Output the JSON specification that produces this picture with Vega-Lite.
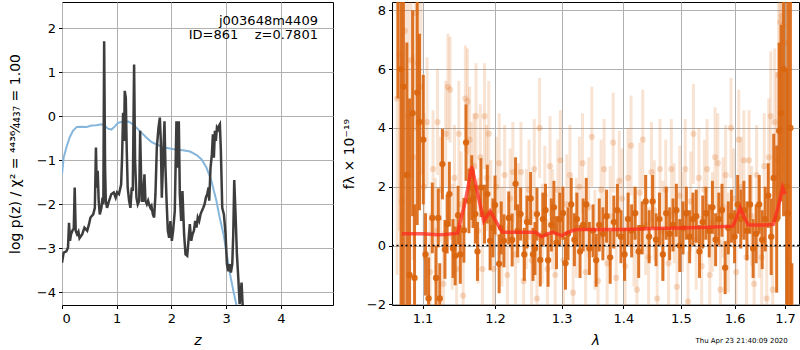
{
  "$schema": "https://vega.github.io/schema/vega-lite/v6.json",
  "padding": {"left": 7, "top": 1, "right": 0, "bottom": 0},
  "background": "white",
  "config": {
    "view": {"stroke": "black", "strokeWidth": 1},
    "axis": {"grid": true, "gridColor": "#b0b0b0", "gridWidth": 1, "domain": false, "tickColor": "black", "tickSize": 3.5, "labelFontSize": 13, "labelColor": "black", "labelFont": "DejaVu Sans", "titleFont": "DejaVu Sans", "titleFontSize": 14, "titleFontWeight": "normal", "titleColor": "black", "labelPadding": 3}
  },
  "datasets": {
    "blue": [
      {"z":0,"p":-1.32},{"z":0.03,"p":-0.94},{"z":0.08,"p":-0.71},{"z":0.14,"p":-0.48},{"z":0.2,"p":-0.33},{"z":0.27,"p":-0.24},{"z":0.35,"p":-0.235},{"z":0.45,"p":-0.24},{"z":0.54,"p":-0.21},{"z":0.63,"p":-0.2},{"z":0.72,"p":-0.18},{"z":0.78,"p":-0.21},{"z":0.84,"p":-0.28},{"z":0.9,"p":-0.3},{"z":0.96,"p":-0.24},{"z":1.02,"p":-0.15},{"z":1.12,"p":-0.12},{"z":1.21,"p":-0.12},{"z":1.27,"p":-0.16},{"z":1.36,"p":-0.26},{"z":1.45,"p":-0.37},{"z":1.54,"p":-0.48},{"z":1.63,"p":-0.58},{"z":1.73,"p":-0.64},{"z":1.85,"p":-0.7},{"z":1.97,"p":-0.73},{"z":2.09,"p":-0.76},{"z":2.21,"p":-0.77},{"z":2.34,"p":-0.8},{"z":2.46,"p":-0.88},{"z":2.55,"p":-0.98},{"z":2.64,"p":-1.17},{"z":2.73,"p":-1.47},{"z":2.82,"p":-1.92},{"z":2.88,"p":-2.3},{"z":2.95,"p":-2.68},{"z":3.01,"p":-3.14},{"z":3.07,"p":-3.59},{"z":3.13,"p":-3.97},{"z":3.19,"p":-4.31},{"z":3.25,"p":-4.65}
    ],
    "pz": [
      {"z":0,"p":-3.33},{"z":0.03,"p":-3.1},{"z":0.08,"p":-3.07},{"z":0.11,"p":-2.98},{"z":0.128,"p":-2.42},{"z":0.146,"p":-2.83},{"z":0.165,"p":-2.68},{"z":0.19,"p":-2.6},{"z":0.215,"p":-2.55},{"z":0.232,"p":-1.62},{"z":0.25,"p":-2.6},{"z":0.275,"p":-2.68},{"z":0.3,"p":-2.62},{"z":0.32,"p":-2.77},{"z":0.37,"p":-2.68},{"z":0.41,"p":-2.53},{"z":0.46,"p":-2.6},{"z":0.49,"p":-2.47},{"z":0.52,"p":-2.3},{"z":0.57,"p":-2.23},{"z":0.6,"p":-2.08},{"z":0.62,"p":-0.71},{"z":0.635,"p":-1.62},{"z":0.652,"p":-1.24},{"z":0.67,"p":-1.92},{"z":0.69,"p":-2.23},{"z":0.72,"p":-2.08},{"z":0.74,"p":-1.85},{"z":0.755,"p":-2.0},{"z":0.77,"p":1.71},{"z":0.787,"p":-1.17},{"z":0.8,"p":-1.92},{"z":0.823,"p":-2.08},{"z":0.86,"p":-1.92},{"z":0.9,"p":-1.77},{"z":0.945,"p":-1.73},{"z":0.98,"p":-1.85},{"z":1.006,"p":-1.73},{"z":1.04,"p":-1.77},{"z":1.08,"p":-1.55},{"z":1.097,"p":-0.94},{"z":1.116,"p":0.08},{"z":1.134,"p":-0.56},{"z":1.146,"p":0.58},{"z":1.165,"p":0.42},{"z":1.183,"p":-0.79},{"z":1.2,"p":-1.62},{"z":1.226,"p":-1.92},{"z":1.25,"p":-2.08},{"z":1.274,"p":-1.62},{"z":1.293,"p":-1.7},{"z":1.317,"p":1.18},{"z":1.335,"p":-1.02},{"z":1.36,"p":-1.85},{"z":1.384,"p":-2.0},{"z":1.41,"p":-1.92},{"z":1.427,"p":-0.33},{"z":1.445,"p":-1.39},{"z":1.463,"p":-1.92},{"z":1.48,"p":-1.92},{"z":1.506,"p":-1.32},{"z":1.524,"p":-1.92},{"z":1.55,"p":-2.0},{"z":1.573,"p":-1.92},{"z":1.59,"p":-2.0},{"z":1.616,"p":-2.08},{"z":1.634,"p":-2.04},{"z":1.66,"p":-2.23},{"z":1.683,"p":-2.3},{"z":1.707,"p":-1.77},{"z":1.732,"p":-0.71},{"z":1.762,"p":-0.26},{"z":1.787,"p":-0.03},{"z":1.805,"p":-0.56},{"z":1.823,"p":-1.85},{"z":1.848,"p":-0.94},{"z":1.872,"p":-0.11},{"z":1.89,"p":-1.17},{"z":1.91,"p":-1.92},{"z":1.933,"p":-2.6},{"z":1.957,"p":-2.76},{"z":1.98,"p":-2.38},{"z":2.006,"p":-2.83},{"z":2.03,"p":-2.6},{"z":2.06,"p":-2.15},{"z":2.09,"p":-0.11},{"z":2.11,"p":-1.17},{"z":2.134,"p":-0.11},{"z":2.152,"p":-1.77},{"z":2.177,"p":-2.38},{"z":2.2,"p":-1.7},{"z":2.23,"p":-2.68},{"z":2.256,"p":-3.14},{"z":2.287,"p":-3.17},{"z":2.31,"p":-2.83},{"z":2.335,"p":-2.45},{"z":2.36,"p":-2.83},{"z":2.384,"p":-2.68},{"z":2.41,"p":-2.6},{"z":2.433,"p":-2.38},{"z":2.457,"p":-2.53},{"z":2.48,"p":-2.3},{"z":2.506,"p":-2.38},{"z":2.53,"p":-2.23},{"z":2.555,"p":-2.15},{"z":2.58,"p":-2.08},{"z":2.604,"p":-2.0},{"z":2.628,"p":-1.85},{"z":2.652,"p":-1.77},{"z":2.677,"p":-1.62},{"z":2.689,"p":-1.92},{"z":2.713,"p":-1.17},{"z":2.738,"p":-0.86},{"z":2.756,"p":-0.41},{"z":2.774,"p":-0.94},{"z":2.793,"p":-0.33},{"z":2.81,"p":-0.56},{"z":2.83,"p":-0.26},{"z":2.848,"p":-0.3},{"z":2.866,"p":-0.22},{"z":2.884,"p":-0.18},{"z":2.902,"p":-0.79},{"z":2.927,"p":-2.08},{"z":2.957,"p":-2.23},{"z":2.988,"p":-2.68},{"z":3.012,"p":-3.36},{"z":3.037,"p":-3.52},{"z":3.061,"p":-3.36},{"z":3.085,"p":-3.55},{"z":3.11,"p":-3.36},{"z":3.128,"p":-2.68},{"z":3.146,"p":-1.45},{"z":3.17,"p":-2.23},{"z":3.195,"p":-3.14},{"z":3.22,"p":-3.67},{"z":3.244,"p":-4.27},{"z":3.262,"p":-4.05},{"z":3.28,"p":-3.78},{"z":3.3,"p":-4.3},{"z":3.32,"p":-4.8}
    ],
    "dark": [
      {"l":1.068,"f":9.0,"lo":5.0,"hi":13.0},{"l":1.072,"f":6.0,"lo":-3.0,"hi":15.0},{"l":1.075,"f":5.4,"lo":-2.6,"hi":13.4},{"l":1.0795,"f":2.4,"lo":-2.1,"hi":6.9},{"l":1.083,"f":-1.0,"lo":-7.0,"hi":5.0},{"l":1.087,"f":4.5,"lo":1.0,"hi":8.0},{"l":1.0895,"f":-1.1,"lo":-3.6,"hi":1.4},{"l":1.093,"f":5.2,"lo":0.7,"hi":9.7},{"l":1.096,"f":4.2,"lo":1.2,"hi":7.2},{"l":1.101,"f":3.6,"lo":1.4,"hi":5.8},{"l":1.104,"f":-0.3,"lo":-1.7,"hi":1.1},{"l":1.108,"f":-1.8,"lo":-3.2,"hi":-0.4},{"l":1.113,"f":0.94,"lo":-0.26,"hi":2.14},{"l":1.118,"f":-1.1,"lo":-2.2,"hi":0.0},{"l":1.121,"f":0.94,"lo":-0.06,"hi":1.94},{"l":1.123,"f":-1.8,"lo":-3.0,"hi":-0.6},{"l":1.1266,"f":2.77,"lo":1.57,"hi":3.97},{"l":1.13,"f":-0.13,"lo":-1.13,"hi":0.87},{"l":1.133,"f":0.73,"lo":-0.27,"hi":1.73},{"l":1.136,"f":1.75,"lo":0.65,"hi":2.85},{"l":1.141,"f":-0.1,"lo":-1.1,"hi":0.9},{"l":1.144,"f":-0.35,"lo":-1.35,"hi":0.65},{"l":1.148,"f":1.03,"lo":0.03,"hi":2.03},{"l":1.151,"f":-0.3,"lo":-1.3,"hi":0.7},{"l":1.156,"f":0.52,"lo":-0.58,"hi":1.62},{"l":1.159,"f":3.5,"lo":2.2,"hi":4.8},{"l":1.163,"f":1.52,"lo":0.42,"hi":2.62},{"l":1.167,"f":1.97,"lo":0.87,"hi":3.07},{"l":1.169,"f":1.6,"lo":0.6,"hi":2.6},{"l":1.172,"f":1.07,"lo":0.07,"hi":2.07},{"l":1.175,"f":-0.2,"lo":-1.2,"hi":0.8},{"l":1.18,"f":1.97,"lo":0.97,"hi":2.97},{"l":1.185,"f":1.07,"lo":0.07,"hi":2.07},{"l":1.189,"f":1.75,"lo":0.75,"hi":2.75},{"l":1.193,"f":0.16,"lo":-0.84,"hi":1.16},{"l":1.197,"f":0.6,"lo":-0.4,"hi":1.6},{"l":1.2,"f":1.38,"lo":0.38,"hi":2.38},{"l":1.206,"f":-0.62,"lo":-1.62,"hi":0.38},{"l":1.209,"f":0.6,"lo":-0.3,"hi":1.5},{"l":1.213,"f":0.16,"lo":-0.74,"hi":1.06},{"l":1.22,"f":0.94,"lo":0.04,"hi":1.84},{"l":1.225,"f":0.19,"lo":-0.71,"hi":1.09},{"l":1.23,"f":2.1,"lo":1.2,"hi":3.0},{"l":1.233,"f":0.5,"lo":-0.4,"hi":1.4},{"l":1.2375,"f":1.07,"lo":0.17,"hi":1.97},{"l":1.243,"f":-0.3,"lo":-1.2,"hi":0.6},{"l":1.247,"f":0.8,"lo":-0.1,"hi":1.7},{"l":1.2525,"f":1.6,"lo":0.7,"hi":2.5},{"l":1.256,"f":-0.3,"lo":-1.2,"hi":0.6},{"l":1.259,"f":-0.1,"lo":-1.0,"hi":0.8},{"l":1.262,"f":1.07,"lo":0.17,"hi":1.97},{"l":1.267,"f":-0.49,"lo":-1.39,"hi":0.41},{"l":1.271,"f":0.9,"lo":0.0,"hi":1.8},{"l":1.275,"f":1.2,"lo":0.3,"hi":2.1},{"l":1.279,"f":-0.5,"lo":-1.4,"hi":0.4},{"l":1.284,"f":0.7,"lo":-0.2,"hi":1.6},{"l":1.288,"f":1.3,"lo":0.4,"hi":2.2},{"l":1.292,"f":0.1,"lo":-0.8,"hi":1.0},{"l":1.297,"f":0.9,"lo":0.0,"hi":1.8},{"l":1.302,"f":1.1,"lo":0.2,"hi":2.0},{"l":1.306,"f":-0.6,"lo":-1.5,"hi":0.3},{"l":1.31,"f":0.4,"lo":-0.5,"hi":1.3},{"l":1.315,"f":1.4,"lo":0.5,"hi":2.3},{"l":1.32,"f":0.2,"lo":-0.7,"hi":1.1},{"l":1.324,"f":0.9,"lo":0.0,"hi":1.8},{"l":1.329,"f":-0.2,"lo":-1.1,"hi":0.7},{"l":1.334,"f":0.7,"lo":-0.2,"hi":1.6},{"l":1.339,"f":1.4,"lo":0.5,"hi":2.3},{"l":1.344,"f":-0.1,"lo":-1.0,"hi":0.8},{"l":1.35,"f":0.5,"lo":-0.4,"hi":1.4},{"l":1.355,"f":-0.5,"lo":-1.4,"hi":0.4},{"l":1.36,"f":0.7,"lo":-0.2,"hi":1.6},{"l":1.366,"f":0.4,"lo":-0.5,"hi":1.3},{"l":1.372,"f":1.0,"lo":0.1,"hi":1.9},{"l":1.378,"f":-0.4,"lo":-1.3,"hi":0.5},{"l":1.384,"f":0.8,"lo":-0.1,"hi":1.7},{"l":1.39,"f":1.2,"lo":0.3,"hi":2.1},{"l":1.396,"f":0.3,"lo":-0.6,"hi":1.2},{"l":1.402,"f":-0.3,"lo":-1.2,"hi":0.6},{"l":1.408,"f":0.9,"lo":0.0,"hi":1.8},{"l":1.414,"f":0.5,"lo":-0.4,"hi":1.4},{"l":1.42,"f":1.1,"lo":0.2,"hi":2.0},{"l":1.426,"f":-0.2,"lo":-1.1,"hi":0.7},{"l":1.432,"f":0.6,"lo":-0.3,"hi":1.5},{"l":1.438,"f":1.5,"lo":0.6,"hi":2.4},{"l":1.444,"f":0.3,"lo":-0.6,"hi":1.2},{"l":1.45,"f":1.5,"lo":0.6,"hi":2.4},{"l":1.456,"f":0.2,"lo":-0.7,"hi":1.1},{"l":1.462,"f":0.9,"lo":0.0,"hi":1.8},{"l":1.468,"f":-0.3,"lo":-1.2,"hi":0.6},{"l":1.474,"f":1.1,"lo":0.2,"hi":2.0},{"l":1.48,"f":0.4,"lo":-0.5,"hi":1.3},{"l":1.486,"f":0.7,"lo":-0.2,"hi":1.6},{"l":1.492,"f":1.2,"lo":0.3,"hi":2.1},{"l":1.498,"f":0.0,"lo":-0.9,"hi":0.9},{"l":1.504,"f":0.6,"lo":-0.3,"hi":1.5},{"l":1.51,"f":1.1,"lo":0.2,"hi":2.0},{"l":1.516,"f":0.3,"lo":-0.6,"hi":1.2},{"l":1.522,"f":0.9,"lo":0.0,"hi":1.8},{"l":1.528,"f":1.0,"lo":0.1,"hi":1.9},{"l":1.534,"f":-0.2,"lo":-1.1,"hi":0.7},{"l":1.54,"f":0.8,"lo":-0.1,"hi":1.7},{"l":1.546,"f":1.1,"lo":0.2,"hi":2.0},{"l":1.552,"f":0.5,"lo":-0.4,"hi":1.4},{"l":1.558,"f":1.3,"lo":0.4,"hi":2.2},{"l":1.564,"f":0.2,"lo":-0.7,"hi":1.1},{"l":1.57,"f":0.9,"lo":0.0,"hi":1.8},{"l":1.576,"f":1.2,"lo":0.3,"hi":2.1},{"l":1.582,"f":-0.75,"lo":-1.65,"hi":0.15},{"l":1.588,"f":0.6,"lo":-0.3,"hi":1.5},{"l":1.594,"f":1.0,"lo":0.1,"hi":1.9},{"l":1.6,"f":0.3,"lo":-0.6,"hi":1.2},{"l":1.606,"f":1.4,"lo":0.4,"hi":2.4},{"l":1.612,"f":0.9,"lo":-0.1,"hi":1.9},{"l":1.618,"f":1.2,"lo":0.2,"hi":2.2},{"l":1.624,"f":0.5,"lo":-0.5,"hi":1.5},{"l":1.63,"f":1.4,"lo":0.4,"hi":2.4},{"l":1.636,"f":-0.1,"lo":-1.1,"hi":0.9},{"l":1.642,"f":0.4,"lo":-0.6,"hi":1.4},{"l":1.648,"f":1.4,"lo":0.4,"hi":2.4},{"l":1.654,"f":0.2,"lo":-0.8,"hi":1.2},{"l":1.66,"f":0.9,"lo":-0.2,"hi":2.0},{"l":1.666,"f":1.7,"lo":0.6,"hi":2.8},{"l":1.672,"f":0.3,"lo":-1.0,"hi":1.6},{"l":1.677,"f":2.3,"lo":0.8,"hi":3.8},{"l":1.683,"f":0.9,"lo":-1.6,"hi":3.4},{"l":1.688,"f":3.9,"lo":0.9,"hi":6.9},{"l":1.692,"f":4.5,"lo":1.5,"hi":7.5},{"l":1.697,"f":6.0,"lo":1.0,"hi":11.0},{"l":1.7035,"f":2.0,"lo":-3.0,"hi":6.0},{"l":1.7055,"f":1.1,"lo":-8.0,"hi":10.0},{"l":1.711,"f":4.0,"lo":-10.0,"hi":18.0},{"l":1.714,"f":-5.0,"lo":-9.0,"hi":-0.6}
    ],
    "light": [
      {"l":1.067,"f":5.0,"lo":-1.0,"hi":11.0},{"l":1.07,"f":6.5,"lo":0.5,"hi":12.5},{"l":1.073,"f":1.5,"lo":-3.5,"hi":6.5},{"l":1.077,"f":7.3,"lo":2.3,"hi":12.3},{"l":1.081,"f":4.4,"lo":0.4,"hi":8.4},{"l":1.085,"f":6.3,"lo":2.3,"hi":10.3},{"l":1.088,"f":3.0,"lo":-0.5,"hi":6.5},{"l":1.091,"f":7.9,"lo":3.9,"hi":11.9},{"l":1.094,"f":6.2,"lo":3.2,"hi":9.2},{"l":1.098,"f":5.4,"lo":2.4,"hi":8.4},{"l":1.102,"f":2.0,"lo":-0.5,"hi":4.5},{"l":1.106,"f":4.2,"lo":2.0,"hi":6.4},{"l":1.11,"f":-0.9,"lo":-2.9,"hi":1.1},{"l":1.114,"f":2.6,"lo":0.6,"hi":4.6},{"l":1.117,"f":0.5,"lo":-1.3,"hi":2.3},{"l":1.12,"f":4.2,"lo":2.4,"hi":6.0},{"l":1.124,"f":1.9,"lo":0.1,"hi":3.7},{"l":1.128,"f":-1.3,"lo":-3.1,"hi":0.5},{"l":1.131,"f":3.8,"lo":2.0,"hi":5.6},{"l":1.134,"f":5.4,"lo":3.6,"hi":7.2},{"l":1.137,"f":5.3,"lo":3.5,"hi":7.1},{"l":1.14,"f":0.3,"lo":-1.5,"hi":2.1},{"l":1.143,"f":2.3,"lo":0.5,"hi":4.1},{"l":1.146,"f":-0.8,"lo":-2.6,"hi":1.0},{"l":1.149,"f":3.8,"lo":2.0,"hi":5.6},{"l":1.152,"f":1.4,"lo":-0.4,"hi":3.2},{"l":1.155,"f":-1.7,"lo":-3.5,"hi":0.1},{"l":1.158,"f":5.0,"lo":3.2,"hi":6.8},{"l":1.161,"f":4.9,"lo":3.1,"hi":6.7},{"l":1.164,"f":3.6,"lo":1.8,"hi":5.4},{"l":1.166,"f":2.4,"lo":0.6,"hi":4.2},{"l":1.17,"f":2.7,"lo":0.9,"hi":4.5},{"l":1.173,"f":4.4,"lo":2.6,"hi":6.2},{"l":1.176,"f":0.5,"lo":-1.3,"hi":2.3},{"l":1.179,"f":3.0,"lo":1.2,"hi":4.8},{"l":1.182,"f":-0.8,"lo":-2.6,"hi":1.0},{"l":1.185,"f":4.4,"lo":2.6,"hi":6.2},{"l":1.188,"f":2.3,"lo":0.5,"hi":4.1},{"l":1.191,"f":3.8,"lo":2.0,"hi":5.6},{"l":1.194,"f":1.1,"lo":-0.7,"hi":2.9},{"l":1.198,"f":-0.8,"lo":-2.6,"hi":1.0},{"l":1.202,"f":2.0,"lo":0.3,"hi":3.7},{"l":1.206,"f":2.8,"lo":1.1,"hi":4.5},{"l":1.21,"f":0.3,"lo":-1.4,"hi":2.0},{"l":1.214,"f":2.4,"lo":0.7,"hi":4.1},{"l":1.218,"f":-1.0,"lo":-2.7,"hi":0.7},{"l":1.222,"f":1.6,"lo":-0.1,"hi":3.3},{"l":1.226,"f":2.5,"lo":0.8,"hi":4.2},{"l":1.23,"f":-0.3,"lo":-2.0,"hi":1.4},{"l":1.234,"f":1.1,"lo":-0.6,"hi":2.8},{"l":1.238,"f":2.5,"lo":0.8,"hi":4.2},{"l":1.242,"f":-1.2,"lo":-2.9,"hi":0.5},{"l":1.246,"f":0.9,"lo":-0.8,"hi":2.6},{"l":1.25,"f":1.9,"lo":0.2,"hi":3.6},{"l":1.254,"f":-0.5,"lo":-2.2,"hi":1.2},{"l":1.258,"f":2.6,"lo":0.9,"hi":4.3},{"l":1.262,"f":-1.8,"lo":-3.5,"hi":-0.1},{"l":1.266,"f":4.0,"lo":2.3,"hi":5.7},{"l":1.27,"f":0.4,"lo":-1.3,"hi":2.1},{"l":1.274,"f":1.7,"lo":0.0,"hi":3.4},{"l":1.278,"f":-0.8,"lo":-2.5,"hi":0.9},{"l":1.282,"f":2.7,"lo":1.0,"hi":4.4},{"l":1.286,"f":0.9,"lo":-0.8,"hi":2.6},{"l":1.29,"f":-1.0,"lo":-2.7,"hi":0.7},{"l":1.294,"f":1.9,"lo":0.2,"hi":3.6},{"l":1.298,"f":2.9,"lo":1.2,"hi":4.6},{"l":1.303,"f":-0.5,"lo":-2.2,"hi":1.2},{"l":1.308,"f":1.4,"lo":-0.3,"hi":3.1},{"l":1.313,"f":2.4,"lo":0.7,"hi":4.1},{"l":1.318,"f":-1.6,"lo":-3.3,"hi":0.1},{"l":1.323,"f":0.6,"lo":-1.1,"hi":2.3},{"l":1.328,"f":2.0,"lo":0.3,"hi":3.7},{"l":1.333,"f":2.8,"lo":1.1,"hi":4.5},{"l":1.338,"f":-0.9,"lo":-2.6,"hi":0.8},{"l":1.343,"f":1.3,"lo":-0.4,"hi":3.0},{"l":1.348,"f":3.7,"lo":2.0,"hi":5.4},{"l":1.353,"f":0.2,"lo":-1.5,"hi":1.9},{"l":1.358,"f":-1.2,"lo":-2.9,"hi":0.5},{"l":1.363,"f":1.9,"lo":0.2,"hi":3.6},{"l":1.368,"f":2.6,"lo":0.9,"hi":4.3},{"l":1.373,"f":-0.6,"lo":-2.3,"hi":1.1},{"l":1.378,"f":1.0,"lo":-0.7,"hi":2.7},{"l":1.383,"f":3.5,"lo":1.8,"hi":5.2},{"l":1.388,"f":-1.1,"lo":-2.8,"hi":0.6},{"l":1.393,"f":2.2,"lo":0.5,"hi":3.9},{"l":1.398,"f":1.6,"lo":-0.1,"hi":3.3},{"l":1.403,"f":-0.7,"lo":-2.4,"hi":1.0},{"l":1.408,"f":2.3,"lo":0.6,"hi":4.0},{"l":1.413,"f":3.4,"lo":1.7,"hi":5.1},{"l":1.418,"f":0.3,"lo":-1.4,"hi":2.0},{"l":1.423,"f":-1.5,"lo":-3.2,"hi":0.2},{"l":1.428,"f":1.8,"lo":0.1,"hi":3.5},{"l":1.433,"f":3.6,"lo":1.9,"hi":5.3},{"l":1.438,"f":0.7,"lo":-1.0,"hi":2.4},{"l":1.443,"f":-0.4,"lo":-2.1,"hi":1.3},{"l":1.448,"f":2.5,"lo":0.8,"hi":4.2},{"l":1.453,"f":1.2,"lo":-0.5,"hi":2.9},{"l":1.458,"f":-1.8,"lo":-3.5,"hi":-0.1},{"l":1.463,"f":2.6,"lo":0.9,"hi":4.3},{"l":1.468,"f":0.5,"lo":-1.2,"hi":2.2},{"l":1.473,"f":1.9,"lo":0.2,"hi":3.6},{"l":1.478,"f":-0.6,"lo":-2.3,"hi":1.1},{"l":1.483,"f":2.6,"lo":0.9,"hi":4.3},{"l":1.488,"f":1.1,"lo":-0.6,"hi":2.8},{"l":1.493,"f":-1.4,"lo":-3.1,"hi":0.3},{"l":1.498,"f":1.7,"lo":0.0,"hi":3.4},{"l":1.503,"f":0.8,"lo":-0.9,"hi":2.5},{"l":1.508,"f":2.6,"lo":0.9,"hi":4.3},{"l":1.513,"f":-1.9,"lo":-3.6,"hi":-0.2},{"l":1.518,"f":1.5,"lo":-0.2,"hi":3.2},{"l":1.523,"f":3.8,"lo":2.1,"hi":5.5},{"l":1.528,"f":0.2,"lo":-1.5,"hi":1.9},{"l":1.533,"f":2.3,"lo":0.6,"hi":4.0},{"l":1.538,"f":-0.7,"lo":-2.4,"hi":1.0},{"l":1.543,"f":1.9,"lo":0.2,"hi":3.6},{"l":1.548,"f":2.6,"lo":0.9,"hi":4.3},{"l":1.553,"f":-1.0,"lo":-2.7,"hi":0.7},{"l":1.558,"f":0.8,"lo":-0.9,"hi":2.5},{"l":1.563,"f":3.0,"lo":1.3,"hi":4.7},{"l":1.568,"f":2.8,"lo":1.1,"hi":4.5},{"l":1.573,"f":-1.5,"lo":-3.2,"hi":0.2},{"l":1.578,"f":1.3,"lo":-0.4,"hi":3.0},{"l":1.583,"f":2.4,"lo":0.7,"hi":4.1},{"l":1.588,"f":0.1,"lo":-1.6,"hi":1.8},{"l":1.593,"f":4.0,"lo":2.3,"hi":5.7},{"l":1.598,"f":1.6,"lo":-0.1,"hi":3.3},{"l":1.603,"f":-0.9,"lo":-2.6,"hi":0.8},{"l":1.608,"f":3.6,"lo":1.9,"hi":5.3},{"l":1.613,"f":2.0,"lo":0.3,"hi":3.7},{"l":1.618,"f":2.9,"lo":1.2,"hi":4.6},{"l":1.623,"f":-0.4,"lo":-2.1,"hi":1.3},{"l":1.628,"f":2.9,"lo":1.2,"hi":4.6},{"l":1.633,"f":1.0,"lo":-0.7,"hi":2.7},{"l":1.638,"f":-1.3,"lo":-3.0,"hi":0.4},{"l":1.643,"f":2.4,"lo":0.7,"hi":4.1},{"l":1.648,"f":0.6,"lo":-1.1,"hi":2.3},{"l":1.653,"f":-0.4,"lo":-2.1,"hi":1.3},{"l":1.658,"f":2.7,"lo":0.9,"hi":4.5},{"l":1.663,"f":-1.8,"lo":-3.6,"hi":0.0},{"l":1.667,"f":3.0,"lo":1.0,"hi":5.0},{"l":1.671,"f":4.4,"lo":2.2,"hi":6.6},{"l":1.675,"f":-1.5,"lo":-3.7,"hi":0.7},{"l":1.679,"f":4.2,"lo":1.7,"hi":6.7},{"l":1.683,"f":2.9,"lo":-0.1,"hi":5.9},{"l":1.687,"f":5.8,"lo":2.3,"hi":9.3},{"l":1.69,"f":7.6,"lo":3.6,"hi":11.6},{"l":1.693,"f":7.8,"lo":3.3,"hi":12.3},{"l":1.696,"f":7.5,"lo":2.5,"hi":12.5},{"l":1.7,"f":6.9,"lo":1.9,"hi":11.9}
    ],
    "model": [
      {"l":1.073,"f":0.4},{"l":1.1,"f":0.4},{"l":1.12,"f":0.37},{"l":1.13,"f":0.38},{"l":1.147,"f":0.42},{"l":1.158,"f":1.5},{"l":1.167,"f":2.69},{"l":1.176,"f":1.7},{"l":1.184,"f":0.83},{"l":1.193,"f":1.17},{"l":1.202,"f":0.8},{"l":1.211,"f":0.45},{"l":1.24,"f":0.45},{"l":1.26,"f":0.45},{"l":1.269,"f":0.3},{"l":1.278,"f":0.4},{"l":1.286,"f":0.45},{"l":1.3,"f":0.34},{"l":1.31,"f":0.45},{"l":1.323,"f":0.55},{"l":1.35,"f":0.55},{"l":1.4,"f":0.55},{"l":1.45,"f":0.58},{"l":1.5,"f":0.6},{"l":1.55,"f":0.62},{"l":1.597,"f":0.66},{"l":1.604,"f":0.95},{"l":1.611,"f":1.27},{"l":1.619,"f":0.95},{"l":1.627,"f":0.7},{"l":1.66,"f":0.7},{"l":1.676,"f":0.72},{"l":1.686,"f":1.3},{"l":1.695,"f":1.97},{"l":1.7,"f":1.75}
    ]
  },
  "hconcat": [
    {
      "width": 271,
      "height": 303,
      "layer": [
        {
          "data": {"name": "blue"},
          "mark": {"type": "line", "color": "#86b6db", "strokeWidth": 2, "clip": true},
          "encoding": {
            "x": {"field": "z", "type": "quantitative", "scale": {"domain": [0, 4.95], "nice": false, "zero": false}, "axis": {"values": [0, 1, 2, 3, 4], "title": "z", "titleFontStyle": "italic", "titlePadding": 8, "labelPadding": 4}},
            "y": {"field": "p", "type": "quantitative", "scale": {"domain": [-4.29, 2.6], "nice": false, "zero": false}, "axis": {"values": [-4, -3, -2, -1, 0, 1, 2], "title": "log p(z) / χ² = ⁴⁴³⁶⁄₄₄₃₇ = 1.00", "titlePadding": 14}}
          }
        },
        {
          "data": {"name": "pz"},
          "mark": {"type": "line", "color": "#3d3d3d", "strokeWidth": 2.5, "clip": true},
          "encoding": {
            "x": {"field": "z", "type": "quantitative"},
            "y": {"field": "p", "type": "quantitative"}
          }
        },
        {
          "data": {"values": [{}]},
          "mark": {"type": "text", "align": "right", "baseline": "middle", "fontSize": 13, "font": "DejaVu Sans", "color": "black"},
          "encoding": {
            "x": {"datum": 4.675, "type": "quantitative"},
            "y": {"datum": 2.175, "type": "quantitative"},
            "text": {"value": "j003648m4409"}
          }
        },
        {
          "data": {"values": [{}]},
          "mark": {"type": "text", "align": "right", "baseline": "middle", "fontSize": 13, "font": "DejaVu Sans", "color": "black"},
          "encoding": {
            "x": {"datum": 4.675, "type": "quantitative"},
            "y": {"datum": 1.85, "type": "quantitative"},
            "text": {"value": "ID=861\u00a0\u00a0\u00a0\u00a0z=0.7801"}
          }
        }
      ]
    },
    {
      "width": 407,
      "height": 303,
      "layer": [
        {
          "data": {"name": "light"},
          "mark": {"type": "rule", "color": "#e07424", "opacity": 0.2, "strokeWidth": 3, "clip": true},
          "encoding": {
            "x": {"field": "l", "type": "quantitative", "scale": {"type": "log", "domain": [1.0604, 1.7287], "nice": false, "zero": false}, "axis": {"values": [1.1, 1.2, 1.3, 1.4, 1.5, 1.6, 1.7], "format": ".1f", "title": "λ", "titleFontStyle": "italic", "titlePadding": 8, "labelPadding": 4}},
            "y": {"field": "lo", "type": "quantitative", "scale": {"domain": [-2.02, 8.28], "nice": false, "zero": false}, "axis": {"values": [-2, 0, 2, 4, 6, 8], "title": "fλ × 10⁻¹⁹", "titlePadding": 10}},
            "y2": {"field": "hi"}
          }
        },
        {
          "data": {"name": "light"},
          "mark": {"type": "circle", "color": "#e07424", "opacity": 0.25, "size": 38, "clip": true},
          "encoding": {
            "x": {"field": "l", "type": "quantitative"},
            "y": {"field": "f", "type": "quantitative"}
          }
        },
        {
          "data": {"name": "dark"},
          "mark": {"type": "rule", "color": "#d9650f", "opacity": 0.9, "strokeWidth": 3, "clip": true},
          "encoding": {
            "x": {"field": "l", "type": "quantitative"},
            "y": {"field": "lo", "type": "quantitative"},
            "y2": {"field": "hi"}
          }
        },
        {
          "data": {"name": "dark"},
          "mark": {"type": "circle", "color": "#d9650f", "opacity": 0.95, "size": 40, "clip": true},
          "encoding": {
            "x": {"field": "l", "type": "quantitative"},
            "y": {"field": "f", "type": "quantitative"}
          }
        },
        {
          "data": {"name": "model"},
          "mark": {"type": "line", "color": "#ff2a1f", "opacity": 0.75, "strokeWidth": 3.5, "clip": true},
          "encoding": {
            "x": {"field": "l", "type": "quantitative"},
            "y": {"field": "f", "type": "quantitative"}
          }
        },
        {
          "data": {"values": [{}]},
          "mark": {"type": "rule", "color": "black", "strokeWidth": 1.5, "strokeDash": [2, 2.5]},
          "encoding": {
            "y": {"datum": 0, "type": "quantitative"}
          }
        },
        {
          "data": {"values": [{}]},
          "mark": {"type": "text", "align": "right", "baseline": "middle", "fontSize": 7, "font": "DejaVu Sans", "color": "black"},
          "encoding": {
            "x": {"datum": 1.7055, "type": "quantitative"},
            "y": {"datum": -3.25, "type": "quantitative"},
            "text": {"value": "Thu Apr 23 21:40:09 2020"}
          }
        }
      ]
    }
  ],
  "spacing": 59,
  "bounds": "flush"
}
